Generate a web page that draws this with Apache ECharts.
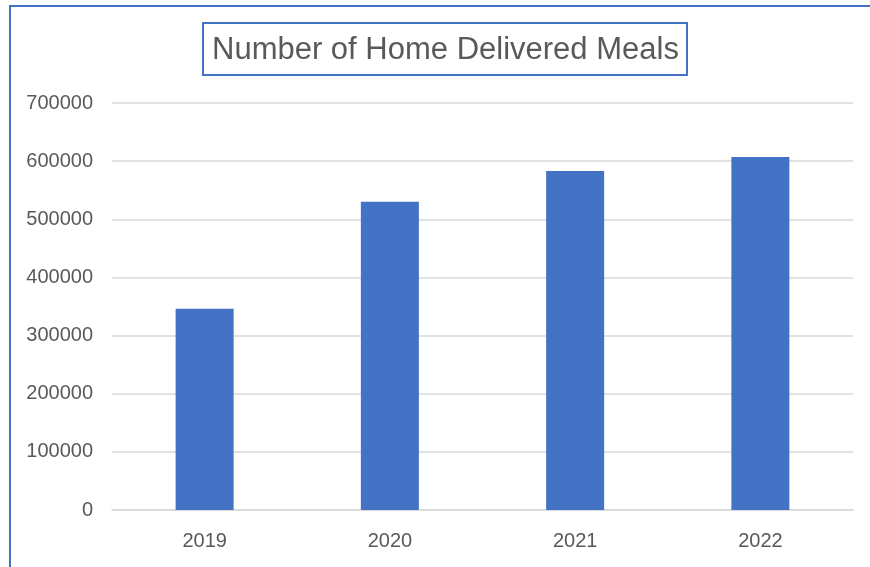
<!DOCTYPE html>
<html>
<head>
<meta charset="utf-8">
<script src="https://cdn.jsdelivr.net/npm/echarts@6/dist/echarts.min.js"></script>
<style>
  html, body { margin: 0; padding: 0; background: #fff; }
  #main { width: 870px; height: 567px; }
</style>
</head>
<body>
<div id="main"></div>
<script>
  // data
  const years = ['2019', '2020', '2021', '2022']
  const meals = [346000, 530000, 583000, 607000]
  const yTicks = { min: 0, max: 700000, step: 100000 }

  const chart = echarts.init(document.getElementById('main'))
  const option = {
    backgroundColor: '#fff',
    animation: false,
    // outer chart frame
    graphic: [{
      type: 'rect',
      shape: { x: 10, y: 6, width: 900, height: 620 },
      style: { fill: 'none', stroke: '#4472C4', lineWidth: 2 },
      silent: true
    }],
    title: {
      text: 'Number of Home Delivered Meals',
      left: 203,
      top: 23,
      padding: [12, 8, 9, 9],
      borderColor: '#4472C4',
      borderWidth: 2,
      textStyle: {
        fontFamily: 'Liberation Sans',
        fontSize: 31,
        fontWeight: 'normal',
        color: '#595959'
      }
    },
    grid: { left: 112, right: 17, top: 103, bottom: 57 },
    xAxis: {
      type: 'category',
      data: years,
      axisLine: { lineStyle: { color: '#d9d9d9', width: 1.5 } },
      axisTick: { show: false },
      axisLabel: {
        margin: 21,
        fontFamily: 'Liberation Sans',
        fontSize: 20,
        color: '#595959'
      }
    },
    yAxis: {
      type: 'value',
      min: yTicks.min,
      max: yTicks.max,
      interval: yTicks.step,
      axisLine: { show: false },
      axisTick: { show: false },
      splitLine: { lineStyle: { color: '#d9d9d9', width: 1.5 } },
      axisLabel: {
        margin: 19,
        formatter: v => String(v),
        fontFamily: 'Liberation Sans',
        fontSize: 20,
        color: '#595959'
      }
    },
    series: [{
      type: 'bar',
      data: meals,
      barWidth: 58,
      itemStyle: { color: '#4472C4' }
    }]
  }
  chart.setOption(option)
</script>
</body>
</html>
